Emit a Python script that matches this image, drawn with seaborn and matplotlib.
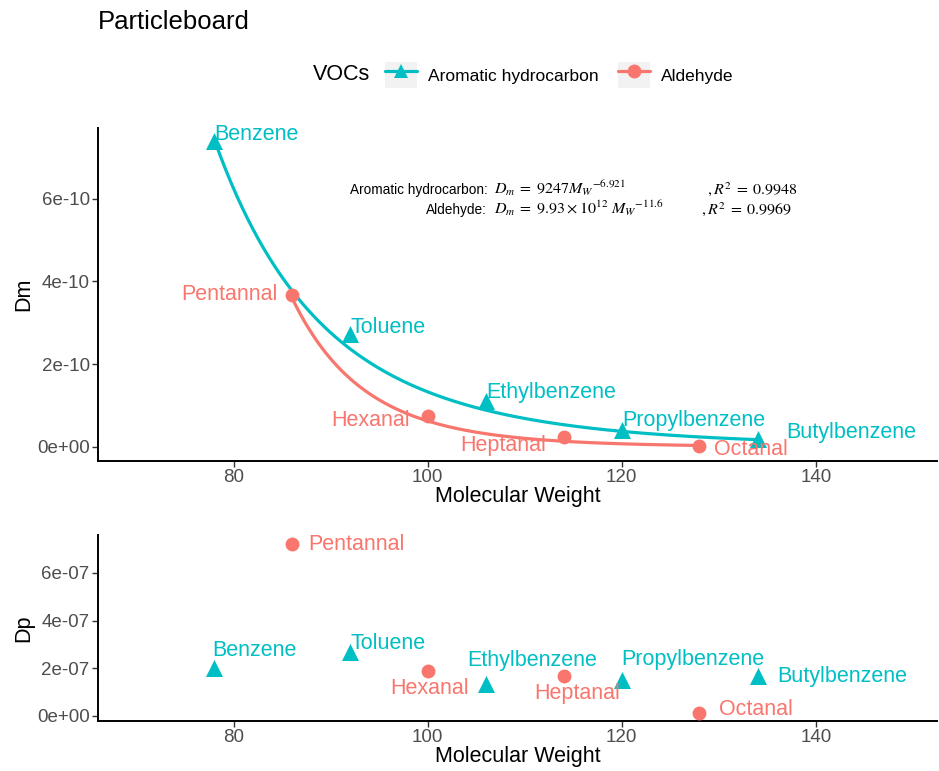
import numpy as np
import pandas as pd
import seaborn as sns
import matplotlib.pyplot as plt
from matplotlib.lines import Line2D
from matplotlib.patches import Rectangle
from matplotlib.legend_handler import HandlerTuple

# values
compounds = ['Benzene', 'Toluene', 'Ethylbenzene', 'Propylbenzene', 'Butylbenzene',
             'Pentannal', 'Hexanal', 'Heptanal', 'Octanal']
vocs = ['Aromatic hydrocarbon'] * 5 + ['Aldehyde'] * 4
mw = [78, 92, 106, 120, 134, 86, 100, 114, 128]
dm = [7.40e-10, 2.73e-10, 1.11e-10, 0.41e-10, 0.19e-10, 3.68e-10, 0.75e-10, 0.24e-10, 0.03e-10]
dp = [2.01e-07, 2.68e-07, 1.34e-07, 1.51e-07, 1.68e-07, 7.21e-07, 1.89e-07, 1.68e-07, 0.13e-07]

# power law fits printed on the chart: Dm = a * MW^b
fit_a = {'Aromatic hydrocarbon': 9247, 'Aldehyde': 9.93e12}
fit_b = {'Aromatic hydrocarbon': -6.921, 'Aldehyde': -11.6}

df = pd.DataFrame({'compound': compounds, 'VOCs': vocs, 'MW': mw, 'Dm': dm, 'Dp': dp})

palette = {'Aromatic hydrocarbon': '#00BFC4', 'Aldehyde': '#F8766D'}
markers = {'Aromatic hydrocarbon': '^', 'Aldehyde': 'o'}
msize = {'Aromatic hydrocarbon': 150, 'Aldehyde': 100}

# label offsets in pixels (dx, dy up) and alignment
off_top = {'Benzene': (0, 6, 'left'), 'Toluene': (0, 7, 'left'), 'Ethylbenzene': (0, 9, 'left'),
           'Propylbenzene': (0, 9, 'left'), 'Butylbenzene': (29, 7, 'left'),
           'Pentannal': (-14, 0, 'right'), 'Hexanal': (-18, -5, 'right'),
           'Heptanal': (-17, -8, 'right'), 'Octanal': (15, -4, 'left')}
off_bot = {'Benzene': (-2, 18, 'left'), 'Toluene': (0, 9, 'left'), 'Ethylbenzene': (46, 24, 'center'),
           'Propylbenzene': (-1, 20, 'left'), 'Butylbenzene': (20, -1, 'left'),
           'Pentannal': (16, 0, 'left'), 'Hexanal': (2, -18, 'center'),
           'Heptanal': (14, -18, 'center'), 'Octanal': (20, 3, 'left')}

sns.set_style('ticks')
plt.rcParams['font.family'] = ['Liberation Sans', 'DejaVu Sans']
plt.rcParams['mathtext.fontset'] = 'stix'

fig = plt.figure(figsize=(9.39, 7.71), dpi=100)
ax1 = fig.add_axes([98 / 939, 1 - 461 / 771, 839 / 939, 333 / 771])
ax2 = fig.add_axes([98 / 939, 1 - 721 / 771, 839 / 939, 186 / 771])

# fitted curves
for g in ['Aromatic hydrocarbon', 'Aldehyde']:
    sub = df[df['VOCs'] == g]
    xs = np.linspace(sub['MW'].min(), sub['MW'].max(), 200)
    curve = pd.DataFrame({'MW': xs, 'Dm': fit_a[g] * xs ** fit_b[g]})
    sns.lineplot(data=curve, x='MW', y='Dm', color=palette[g], lw=2.3, ax=ax1)

for ax, col, offs in [(ax1, 'Dm', off_top), (ax2, 'Dp', off_bot)]:
    for g in ['Aromatic hydrocarbon', 'Aldehyde']:
        sub = df[df['VOCs'] == g]
        sns.scatterplot(data=sub, x='MW', y=col, marker=markers[g], s=msize[g],
                        color=palette[g], linewidth=0, ax=ax, zorder=3)
    for _, r in df.iterrows():
        dx, dy, ha = offs[r['compound']]
        ax.annotate(r['compound'], xy=(r['MW'], r[col]), xytext=(dx * 0.72, dy * 0.72),
                    textcoords='offset points', ha=ha, va='center',
                    color=palette[r['VOCs']], fontsize=15.5)
    ax.set_xlim(66.0, 152.5)
    ax.set_xticks([80, 100, 120, 140])
    ax.set_xlabel('Molecular Weight', fontsize=15.5, labelpad=0, color='black')
    ax.set_ylabel(col, fontsize=15.5, labelpad=2, color='black')
    ax.tick_params(axis='both', labelsize=13.5, labelcolor='#4D4D4D', color='#333333',
                   length=4, width=1, pad=2)
    for s in ['top', 'right']:
        ax.spines[s].set_visible(False)
    for s in ['left', 'bottom']:
        ax.spines[s].set_linewidth(1.4)
        ax.spines[s].set_color('black')

ax1.set_ylim(-0.34e-10, 7.71e-10)
ax1.set_yticks([0, 2e-10, 4e-10, 6e-10])
ax1.set_yticklabels([format(v, '.0e') for v in [0, 2e-10, 4e-10, 6e-10]])
ax2.set_ylim(-0.21e-07, 7.59e-07)
ax2.set_yticks([0, 2e-07, 4e-07, 6e-07])
ax2.set_yticklabels([format(v, '.0e') for v in [0, 2e-07, 4e-07, 6e-07]])

# fit equations
def px(x, y):
    return ((x - 98) / 839, 1 - (y - 128) / 333)

sans_kw = dict(transform=ax1.transAxes, va='baseline', fontsize=9.8, color='black')
math_kw = dict(transform=ax1.transAxes, va='baseline', fontsize=11.5, color='black')
ax1.text(*px(350, 194), 'Aromatic hydrocarbon:', ha='left', **sans_kw)
ax1.text(*px(494, 194), r'$D_m\;=\;9247{M_W}^{-6.921}$', ha='left', **math_kw)
ax1.text(*px(798, 194), r'$,R^2\;=\;0.9948$', ha='right', **math_kw)
ax1.text(*px(426, 214), 'Aldehyde:', ha='left', **sans_kw)
ax1.text(*px(494, 214), r'$D_m\;=\;9.93\times 10^{12}\ {M_W}^{-11.6}$', ha='left', **math_kw)
ax1.text(*px(792, 214), r'$,R^2\;=\;0.9969$', ha='right', **math_kw)

# title and legend
fig.text(98 / 939, 1 - 22 / 771, 'Particleboard', fontsize=18.5, va='center', color='black')
fig.text(313 / 939, 1 - 75 / 771, 'VOCs', fontsize=15.5, va='center', color='black')
handles = []
for g in ['Aromatic hydrocarbon', 'Aldehyde']:
    bg = Rectangle((0, 0), 1, 1, facecolor='#F2F2F2', edgecolor='none')
    ln = Line2D([], [], color=palette[g], lw=2.3, marker=markers[g], markersize=10,
                markeredgewidth=0)
    handles.append((bg, ln))
fig.legend(handles, ['Aromatic hydrocarbon', 'Aldehyde'], handler_map={tuple: HandlerTuple(ndivide=1)},
           loc='center left', bbox_to_anchor=(385 / 939, 1 - 75 / 771), ncol=2, frameon=False,
           fontsize=12.5, handlelength=1.84, handleheight=1.9, handletextpad=0.63,
           columnspacing=1.15, borderpad=0, borderaxespad=0, labelcolor='black')

fig.savefig('out.png', dpi=100)
